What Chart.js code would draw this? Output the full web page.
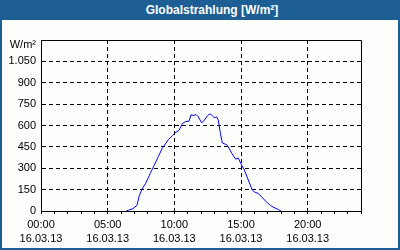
<!DOCTYPE html>
<html>
<head>
<meta charset="utf-8">
<script src="https://cdn.jsdelivr.net/npm/chart.js@4"></script>
<style>
  html, body { margin: 0; padding: 0; }
  body { width: 400px; height: 250px; position: relative; background: #1d5e94; overflow: hidden; }
  #title {
    position: absolute; left: 0; top: 0; width: 400px; height: 20px;
    box-sizing: border-box; padding-left: 24px;
    color: #fff; font: bold 12px "Liberation Sans", Arial, sans-serif;
    line-height: 20px; text-align: center;
  }
  #inner { position: absolute; left: 2px; top: 20px; width: 396px; height: 228px; background: #fbfefb; }
</style>
</head>
<body>
<div id="title">Globalstrahlung [W/m²]</div>
<div id="inner"><canvas id="chart" width="396" height="228"></canvas></div>
<script>
// Messzeitpunkte (Stunden) und Globalstrahlung W/m²
const stunden = [6.4, 6.55, 6.9, 7.2, 7.35, 7.55, 7.85, 8.2, 8.5, 8.8, 9.1, 9.55, 9.85, 10.05, 10.35,
  10.6, 10.85, 11.1, 11.25, 11.43, 11.63, 11.8, 12.05, 12.25, 12.5, 12.68, 12.85, 13.0, 13.18, 13.3,
  13.45, 13.6, 13.93, 14.1, 14.3, 14.6, 14.8, 15.0, 15.25, 15.55, 15.85, 16.0, 16.3, 16.55, 16.9,
  17.2, 17.4, 17.55, 17.8, 18.0];
const strahlung = [0, 5, 17, 40, 100, 150, 194, 265, 323, 382, 441, 500, 528, 548, 566,
  613, 628, 630, 675, 670, 677, 661, 618, 637, 670, 682, 670, 654, 661, 637,
  548, 477, 465, 441, 406, 364, 371, 330, 288, 217, 146, 134, 123, 99, 64,
  40, 28, 21, 10, 0];
const datum = '16.03.13';
const yMax = 1200;
const yStep = 150;
const einheit = 'W/m²';

const fmt = v => v >= 1000 ? Math.floor(v / 1000) + '.' + String(v % 1000).padStart(3, '0') : String(v);

const rahmen = {
  id: 'rahmen',
  afterDraw(chart) {
    const { ctx, chartArea: a, scales } = chart;
    ctx.save();
    ctx.strokeStyle = '#000';
    ctx.lineWidth = 1;
    ctx.beginPath();
    ctx.moveTo(Math.round(a.left) + 0.5, Math.round(a.top) + 0.5);
    ctx.lineTo(Math.round(a.right) + 0.5, Math.round(a.top) + 0.5);
    ctx.lineTo(Math.round(a.right) + 0.5, Math.round(a.bottom) + 0.5);
    ctx.stroke();
    ctx.fillStyle = '#000';
    ctx.font = '11px "Liberation Sans", Arial, sans-serif';
    ctx.textAlign = 'right';
    ctx.textBaseline = 'middle';
    ctx.fillText(einheit, a.left - 5, scales.y.getPixelForValue(yMax) + 5);
    ctx.restore();
  }
};

const font = { family: '"Liberation Sans", Arial, sans-serif', size: 11, lineHeight: '14px' };

new Chart(document.getElementById('chart'), {
  type: 'line',
  data: {
    datasets: [{
      data: stunden.map((h, i) => ({ x: h, y: strahlung[i] })),
      borderColor: '#0000ff',
      borderWidth: 1,
      pointRadius: 0,
      tension: 0,
      fill: false
    }]
  },
  options: {
    responsive: false,
    animation: false,
    layout: { padding: { top: 20, right: 37, left: 0, bottom: 0 } },
    plugins: { legend: { display: false }, tooltip: { enabled: false } },
    scales: {
      x: {
        type: 'linear',
        min: 0,
        max: 24,
        afterFit: s => { s.height = 37; },
        ticks: {
          stepSize: 1,
          autoSkip: false,
          maxRotation: 0,
          padding: 4,
          color: '#000',
          font,
          callback: v => v % 5 === 0 ? [String(v).padStart(2, '0') + ':00', datum] : ''
        },
        grid: {
          color: c => c.tick && c.tick.value % 5 === 0 ? '#000' : 'transparent',
          tickColor: '#000',
          tickLength: 3,
          lineWidth: 1
        },
        border: { color: '#000', width: 1, dash: [4, 3] }
      },
      y: {
        min: 0,
        max: yMax,
        afterFit: s => { s.width = 39; },
        ticks: {
          stepSize: yStep,
          padding: 5,
          color: '#000',
          font,
          callback: v => v === yMax ? '' : fmt(v)
        },
        grid: { color: '#000', drawTicks: false, lineWidth: 1 },
        border: { color: '#000', width: 1, dash: [4, 3] }
      }
    }
  },
  plugins: [rahmen]
});
</script>
</body>
</html>
